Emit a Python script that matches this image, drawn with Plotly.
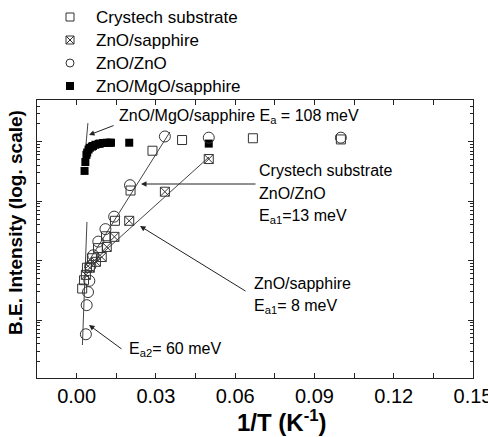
import plotly.graph_objects as go

# ---- data (1/T in K^-1, intensity as log10 of arbitrary units) ----
crystech_x = [0.0021, 0.0028, 0.0039, 0.0058, 0.0081, 0.0111, 0.0145, 0.0204, 0.0287, 0.0399, 0.0667, 0.1000]
crystech_logy = [1.53, 1.67, 1.88, 2.04, 2.21, 2.41, 2.67, 3.18, 3.85, 4.03, 4.06, 4.04]

sapphire_x = [0.0035, 0.0050, 0.0073, 0.0095, 0.0114, 0.0143, 0.0199, 0.0334, 0.0500]
sapphire_logy = [1.76, 1.88, 1.98, 2.06, 2.23, 2.40, 2.67, 3.16, 3.71]

zno_x = [0.0035, 0.0038, 0.0043, 0.0048, 0.0052, 0.0063, 0.0082, 0.0109, 0.0142, 0.0202, 0.0334, 0.0500, 0.1000]
zno_logy = [0.76, 1.25, 1.47, 1.66, 1.91, 2.09, 2.32, 2.53, 2.74, 3.27, 4.09, 4.07, 4.07]

mgo_x = [0.0030, 0.0033, 0.0037, 0.0040, 0.0045, 0.0050, 0.0058, 0.0062, 0.0071, 0.0083, 0.0088, 0.0100, 0.0114, 0.0125, 0.0130, 0.0199, 0.0500]
mgo_logy = [3.51, 3.66, 3.78, 3.82, 3.87, 3.90, 3.92, 3.93, 3.95, 3.965, 3.97, 3.98, 3.985, 3.985, 3.985, 3.985, 3.97]

# fit lines (endpoints)
fit_crystech_x = [0.00295, 0.0353]
fit_crystech_logy = [1.875, 4.165]
fit_sapphire_x = [0.00352, 0.0501]
fit_sapphire_logy = [1.875, 3.744]
fit_ea2_x = [0.00219, 0.0039]
fit_ea2_logy = [0.579, 2.650]
fit_mgo_x = [0.00295, 0.00427]
fit_mgo_logy = [3.66, 4.316]

legend_labels = ["Crystech substrate", "ZnO/sapphire", "ZnO/ZnO", "ZnO/MgO/sapphire"]

x_tickvals = [0.00, 0.03, 0.06, 0.09, 0.12, 0.15]
x_ticktext = ["0.00", "0.03", "0.06", "0.09", "0.12", "0.15"]

FONT = "Liberation Sans, Arial, sans-serif"
MC = "#333333"

def pw(v):
    return [10 ** a for a in v]

styles = {
    "Crystech substrate": dict(symbol="square-open", size=9, color=MC, line=dict(width=1)),
    "ZnO/sapphire": dict(symbol="square-x-open", size=9, color=MC, line=dict(width=1)),
    "ZnO/ZnO": dict(symbol="circle-open", size=11, color=MC, line=dict(width=1)),
    "ZnO/MgO/sapphire": dict(symbol="square", size=8, color="black", line=dict(width=0)),
}
series = {
    "Crystech substrate": (crystech_x, crystech_logy),
    "ZnO/sapphire": (sapphire_x, sapphire_logy),
    "ZnO/ZnO": (zno_x, zno_logy),
    "ZnO/MgO/sapphire": (mgo_x, mgo_logy),
}

fig = go.Figure()

for fx, fy in [(fit_crystech_x, fit_crystech_logy), (fit_sapphire_x, fit_sapphire_logy),
               (fit_ea2_x, fit_ea2_logy), (fit_mgo_x, fit_mgo_logy)]:
    fig.add_trace(go.Scatter(x=fx, y=pw(fy), mode="lines", showlegend=False,
                             line=dict(color="#444444", width=1), hoverinfo="skip"))

for name in ["ZnO/MgO/sapphire", "Crystech substrate", "ZnO/sapphire", "ZnO/ZnO"]:
    sx, sy = series[name]
    fig.add_trace(go.Scatter(x=sx, y=pw(sy), mode="markers", name=name, showlegend=False,
                             marker=styles[name]))

# ---- layout geometry (pixels) ----
W, H = 488, 437
L, R, B = 37, 15, 59
PLOT_TOP = 100           # pixel row of the top of the main frame
AREA_H = H - B           # height of plotting area (margin t=0)
main_top = (AREA_H - PLOT_TOP) / AREA_H
pwid = W - L - R

def px(xp):
    return (xp - L) / pwid

def py(yp):
    return (AREA_H - yp) / AREA_H

# manual legend on an overlay axis whose units are pixels
LEG_MX, LEG_TX, LEG_Y0, LEG_DY = 70, 94, 17, 23
for i, name in enumerate(legend_labels):
    st = dict(styles[name])
    st["size"] = 8 if name != "ZnO/sapphire" else 8
    fig.add_trace(go.Scatter(x=[LEG_MX], y=[LEG_Y0 + i * LEG_DY], mode="markers", showlegend=False,
                             marker=st, xaxis="x2", yaxis="y2", hoverinfo="skip"))

ann = []
for i, name in enumerate(legend_labels):
    ann.append(dict(text=name, x=LEG_TX, y=LEG_Y0 + i * LEG_DY, xref="x2", yref="y2", showarrow=False,
                    xanchor="left", yanchor="middle", font=dict(family=FONT, size=17, color="black")))

def txt(text, x, y, size=16, anchor="left", **kw):
    ann.append(dict(text=text, x=px(x), y=py(y), xref="paper", yref="paper", showarrow=False,
                    xanchor=anchor, yanchor="middle", font=dict(family=FONT, size=size, color="black"), **kw))

def arrow(hx, hy, tx, ty):
    ann.append(dict(text="", x=px(hx), y=py(hy), xref="paper", yref="paper", showarrow=True,
                    ax=tx - hx, ay=ty - hy, arrowhead=2, arrowsize=1.1, arrowwidth=1, arrowcolor="#222222"))

txt("ZnO/MgO/sapphire E<sub>a</sub> = 108 meV", 117, 116)
txt("Crystech substrate", 257, 171)
txt("ZnO/ZnO", 257, 193)
txt("E<sub>a1</sub>=13 meV", 257, 216)
txt("ZnO/sapphire", 252, 283)
txt("E<sub>a1</sub>= 8 meV", 252, 306)
txt("E<sub>a2</sub>= 60 meV", 127, 349)

arrow(89, 135, 115, 125)
arrow(141, 184, 257, 184)
arrow(140, 226, 247, 292)
arrow(89, 325, 123, 350)

txt("<b>B.E. Intensity (log. scale)</b>", 15, 223, size=19, anchor="center", textangle=-90)
txt("<b>1/T (K<sup>-1</sup>)</b>", 282, 421, size=24, anchor="center")

fig.update_layout(
    width=W, height=H,
    margin=dict(l=L, r=R, t=0, b=B, autoexpand=False),
    paper_bgcolor="white", plot_bgcolor="white",
    font=dict(family=FONT, color="black"),
    annotations=ann,
    showlegend=False,
    xaxis=dict(domain=[0, 1], range=[-0.015, 0.15], tickmode="array", tickvals=x_tickvals, ticktext=x_ticktext,
               ticks="inside", ticklen=5, tickwidth=1, tickcolor="#222", showgrid=False, zeroline=False,
               showline=True, linecolor="#222", linewidth=1.3, mirror="allticks", ticklabeloverflow="allow",
               tickfont=dict(family=FONT, size=20, color="black"),
               minor=dict(dtick=0.015, tick0=0, ticks="inside", ticklen=5, tickcolor="#222", showgrid=False)),
    yaxis=dict(domain=[0, main_top], type="log", range=[0.0236, 4.704], dtick=1, showticklabels=False,
               ticks="inside", ticklen=5, tickwidth=1, tickcolor="#222", showgrid=False, zeroline=False,
               showline=True, linecolor="#222", linewidth=1.3, mirror="allticks",
               minor=dict(ticks="inside", ticklen=3, tickcolor="#222", showgrid=False)),
    xaxis2=dict(domain=[0, 1], range=[L, W - R], visible=False, anchor="y2", fixedrange=True),
    yaxis2=dict(domain=[main_top, 1], range=[PLOT_TOP, 0], visible=False, anchor="x2", fixedrange=True),
)

fig.write_html("out.html")
